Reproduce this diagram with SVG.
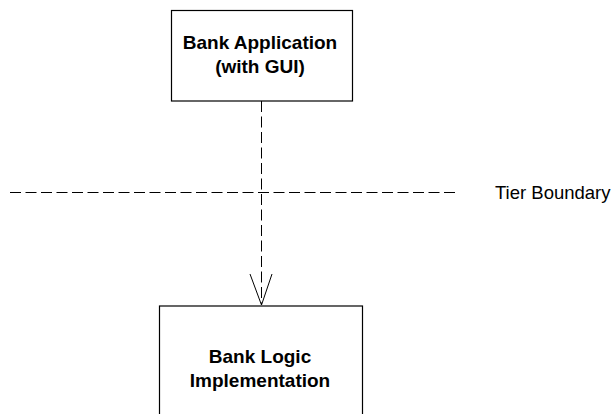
<svg xmlns="http://www.w3.org/2000/svg" width="613" height="414" viewBox="0 0 613 414">
<style>
.box{fill:#fff;stroke:#000;stroke-width:1.2}
.lbl{font-family:"Liberation Sans",Arial,sans-serif;font-weight:bold;font-size:19px;text-anchor:middle;fill:#000}
.dash{fill:none;stroke:#000;stroke-width:1;stroke-dasharray:11,4.5}
.head{fill:none;stroke:#000;stroke-width:1}
.note{font-family:"Liberation Sans",Arial,sans-serif;font-size:18.5px;fill:#000}
</style>
<rect width="613" height="414" fill="#fff"/>
<g id="tier-boundary">
<line class="dash" x1="10" y1="192.5" x2="455" y2="192.5"/>
<text class="note" x="495" y="198.5">Tier Boundary</text>
</g>
<g id="connectors">
<line class="dash" x1="261.5" y1="101" x2="261.5" y2="305"/>
<polyline class="head" points="250,274 261.5,305 272,274"/>
</g>
<g id="bank-application">
<rect class="box" x="171.5" y="10.5" width="181" height="90.5"/>
<text class="lbl" x="260" y="49">Bank Application</text>
<text class="lbl" x="260" y="73">(with GUI)</text>
</g>
<g id="bank-logic">
<rect class="box" x="159.5" y="306" width="203" height="120"/>
<text class="lbl" x="260" y="363">Bank Logic</text>
<text class="lbl" x="260" y="387">Implementation</text>
</g>
</svg>
